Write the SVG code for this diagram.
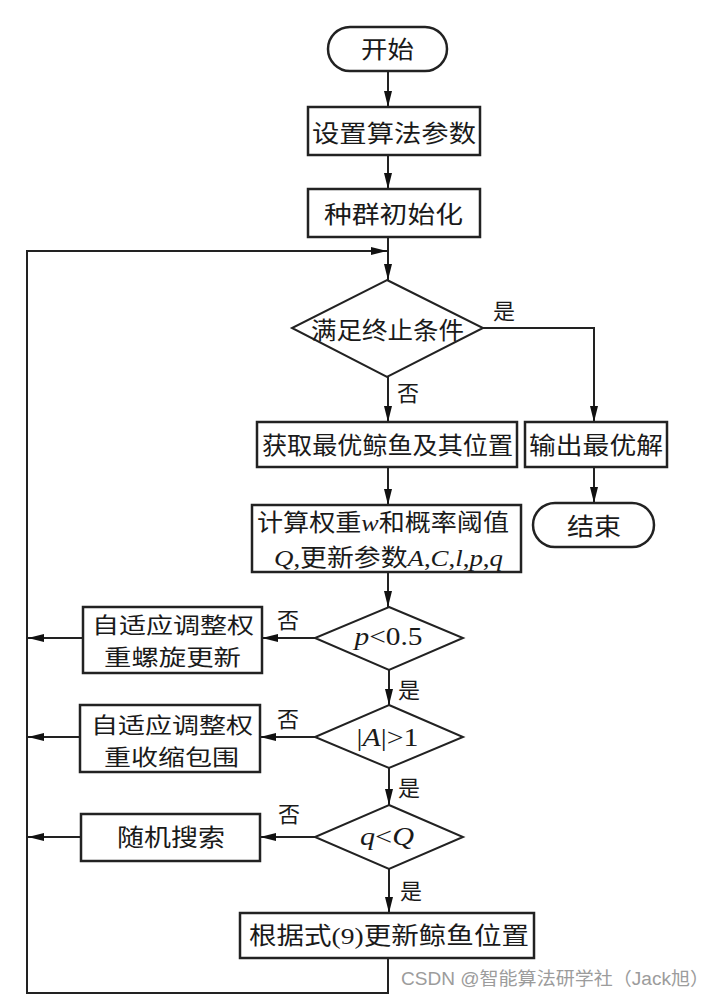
<svg xmlns="http://www.w3.org/2000/svg" width="717" height="997" viewBox="0 0 717 997">
<style>
.bx{fill:#fff;stroke:#222;stroke-width:2.5}
.dm{fill:#fff;stroke:#222;stroke-width:2}
.ln{fill:none;stroke:#222;stroke-width:2}
.t{font-family:"Noto Sans CJK SC","Liberation Serif",serif;font-size:24px;fill:#1a1a1a;text-anchor:middle}
.t2{font-family:"Noto Sans CJK SC","Liberation Serif",serif;font-size:22px;fill:#1a1a1a;text-anchor:middle}
.lb{font-family:"Noto Sans CJK SC","Liberation Serif",serif;font-size:22px;fill:#1a1a1a;text-anchor:middle}
.m{font-family:"Liberation Serif",serif;font-size:25px;fill:#1a1a1a;text-anchor:middle}
.it{font-family:"Liberation Serif",serif;font-style:italic}
.rm{font-family:"Liberation Serif",serif}
.wm{font-family:"Liberation Sans","Noto Sans CJK SC",sans-serif;font-size:18px;fill:#9c9c9c}
</style>
<defs>
<marker id="ah" markerUnits="userSpaceOnUse" markerWidth="16" markerHeight="8" refX="16" refY="4" orient="auto">
<path d="M0,0 L16,4 L0,8 z" fill="#111"/>
</marker>
</defs>
<g id="connectors">
<path class="ln" d="M388 71 V107" marker-end="url(#ah)"/>
<path class="ln" d="M388 155 V189" marker-end="url(#ah)"/>
<path class="ln" d="M388 237 V280" marker-end="url(#ah)"/>
<path class="ln" d="M388 958 V993 H27 V251 H387" marker-end="url(#ah)"/>
<path class="ln" d="M388 377 V422" marker-end="url(#ah)"/>
<path class="ln" d="M483 328 H594 V422" marker-end="url(#ah)"/>
<path class="ln" d="M594 467 V503" marker-end="url(#ah)"/>
<path class="ln" d="M388 467 V505" marker-end="url(#ah)"/>
<path class="ln" d="M388 572 V607" marker-end="url(#ah)"/>
<path class="ln" d="M389 670 V705" marker-end="url(#ah)"/>
<path class="ln" d="M389 768 V805" marker-end="url(#ah)"/>
<path class="ln" d="M389 869 V913" marker-end="url(#ah)"/>
<path class="ln" d="M315 638 H262" marker-end="url(#ah)"/>
<path class="ln" d="M83 638 H28" marker-end="url(#ah)"/>
<path class="ln" d="M315 737 H260" marker-end="url(#ah)"/>
<path class="ln" d="M80 737 H28" marker-end="url(#ah)"/>
<path class="ln" d="M315 837 H260" marker-end="url(#ah)"/>
<path class="ln" d="M81 837 H28" marker-end="url(#ah)"/>
<text class="lb" x="504" y="319">是</text>
<text class="lb" x="408" y="401">否</text>
<text class="lb" x="288" y="628">否</text>
<text class="lb" x="409" y="698">是</text>
<text class="lb" x="288" y="727">否</text>
<text class="lb" x="409" y="796">是</text>
<text class="lb" x="289" y="822">否</text>
<text class="lb" x="411" y="899">是</text>
</g>
<g id="start">
<rect x="328" y="27" width="119" height="44" rx="22" class="bx"/>
<text class="t" x="387.5" y="58" textLength="53" lengthAdjust="spacingAndGlyphs">开始</text>
</g>
<g id="setParams">
<rect x="308" y="107" width="172" height="48" class="bx"/>
<text class="t" x="394" y="141.5" textLength="164" lengthAdjust="spacingAndGlyphs">设置算法参数</text>
</g>
<g id="init">
<rect x="308" y="189" width="172" height="48" class="bx"/>
<text class="t" x="393.5" y="222.5" textLength="139" lengthAdjust="spacingAndGlyphs">种群初始化</text>
</g>
<g id="terminate">
<polygon points="387,280 483,328 387,377 292,328" class="dm"/>
<text class="t" x="387.5" y="339" textLength="153" lengthAdjust="spacingAndGlyphs">满足终止条件</text>
</g>
<g id="getBest">
<rect x="257" y="422" width="260" height="45" class="bx"/>
<text class="t" x="387.5" y="453.5" textLength="251" lengthAdjust="spacingAndGlyphs">获取最优鲸鱼及其位置</text>
</g>
<g id="output">
<rect x="525" y="422" width="142" height="45" class="bx"/>
<text class="t" x="596" y="453.5" textLength="134" lengthAdjust="spacingAndGlyphs">输出最优解</text>
</g>
<g id="end">
<rect x="533" y="503" width="121" height="44" rx="22" class="bx"/>
<text class="t" x="594" y="535" textLength="54" lengthAdjust="spacingAndGlyphs">结束</text>
</g>
<g id="compute">
<rect x="252" y="505" width="269" height="67" class="bx"/>
<text class="t" x="383" y="531" textLength="252" lengthAdjust="spacingAndGlyphs">计算权重<tspan class="it">w</tspan>和概率阈值</text>
<text class="t" x="388.5" y="566" textLength="229" lengthAdjust="spacingAndGlyphs"><tspan class="it">Q</tspan><tspan class="rm">,</tspan>更新参数<tspan class="it">A</tspan><tspan class="rm">,</tspan><tspan class="it">C</tspan><tspan class="rm">,</tspan><tspan class="it">l</tspan><tspan class="rm">,</tspan><tspan class="it">p</tspan><tspan class="rm">,</tspan><tspan class="it">q</tspan></text>
</g>
<g id="condP">
<polygon points="389,607 463,638 389,670 315,638" class="dm"/>
<text class="m" x="388.5" y="645" textLength="68" lengthAdjust="spacingAndGlyphs"><tspan class="it">p</tspan>&lt;0.5</text>
</g>
<g id="spiral">
<rect x="83" y="607" width="179" height="66" class="bx"/>
<text class="t2" x="173" y="632.5" textLength="162" lengthAdjust="spacingAndGlyphs">自适应调整权</text>
<text class="t2" x="172.5" y="664.5" textLength="137" lengthAdjust="spacingAndGlyphs">重螺旋更新</text>
</g>
<g id="condA">
<polygon points="389,705 463,737 389,768 315,737" class="dm"/>
<text class="m" x="387.5" y="746" textLength="62" lengthAdjust="spacingAndGlyphs">|<tspan class="it">A</tspan>|&gt;1</text>
</g>
<g id="encircle">
<rect x="80" y="705" width="180" height="67" class="bx"/>
<text class="t2" x="172" y="732.5" textLength="162" lengthAdjust="spacingAndGlyphs">自适应调整权</text>
<text class="t2" x="171.5" y="764.5" textLength="135" lengthAdjust="spacingAndGlyphs">重收缩包围</text>
</g>
<g id="condQ">
<polygon points="389,805 463,837 389,869 315,837" class="dm"/>
<text class="m" x="387" y="845" textLength="54" lengthAdjust="spacingAndGlyphs"><tspan class="it">q</tspan>&lt;<tspan class="it">Q</tspan></text>
</g>
<g id="random">
<rect x="81" y="814" width="179" height="47" class="bx"/>
<text class="t" x="171" y="845.5" textLength="108" lengthAdjust="spacingAndGlyphs">随机搜索</text>
</g>
<g id="update">
<rect x="240" y="913" width="294" height="45" class="bx"/>
<text class="t" x="389" y="944" textLength="280" lengthAdjust="spacingAndGlyphs">根据式<tspan class="rm">(9)</tspan>更新鲸鱼位置</text>
</g>
<text class="wm" x="401" y="985" textLength="308" lengthAdjust="spacingAndGlyphs">CSDN @智能算法研学社（Jack旭）</text>
</svg>
